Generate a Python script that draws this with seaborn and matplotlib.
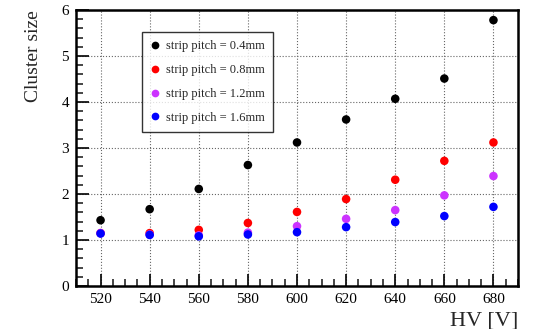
import seaborn as sns
import matplotlib.pyplot as plt
import pandas as pd
from matplotlib.ticker import MultipleLocator

sns.set_theme(style="ticks")
plt.rcParams['font.family'] = ['Liberation Serif', 'DejaVu Serif']
plt.rcParams['mathtext.fontset'] = 'stix'

hv = [520, 540, 560, 580, 600, 620, 640, 660, 680]
pitch_04 = [1.43, 1.67, 2.11, 2.63, 3.12, 3.62, 4.07, 4.51, 5.78]
pitch_08 = [1.15, 1.15, 1.22, 1.37, 1.61, 1.89, 2.31, 2.72, 3.12]
pitch_12 = [1.15, 1.12, 1.10, 1.16, 1.30, 1.46, 1.65, 1.97, 2.39]
pitch_16 = [1.14, 1.11, 1.08, 1.12, 1.17, 1.28, 1.39, 1.52, 1.72]
labels = ["strip pitch = 0.4mm", "strip pitch = 0.8mm",
          "strip pitch = 1.2mm", "strip pitch = 1.6mm"]
colors = ["black", "#ff0000", "#cc33ff", "#0000ff"]

rows = []
for lab, vals in zip(labels, [pitch_04, pitch_08, pitch_12, pitch_16]):
    for x, y in zip(hv, vals):
        rows.append({"HV": x, "size": y, "pitch": lab})
df = pd.DataFrame(rows)

fig = plt.figure(figsize=(5.37, 3.29), dpi=100)
ax = fig.add_axes([76 / 537, 43 / 329, 442 / 537, 276 / 329])

sns.scatterplot(data=df, x="HV", y="size", hue="pitch", hue_order=labels,
                palette=colors, s=38, edgecolor="none", ax=ax, zorder=3)

ax.set_xlim(510, 690)
ax.set_ylim(0, 6)
ax.xaxis.set_major_locator(MultipleLocator(20))
ax.xaxis.set_minor_locator(MultipleLocator(5))
ax.yaxis.set_major_locator(MultipleLocator(1))
ax.yaxis.set_minor_locator(MultipleLocator(0.2))
ax.tick_params(which="major", direction="in", length=9, width=1.2,
               labelsize=11, colors="black", top=False, right=False, pad=5)
ax.tick_params(which="minor", direction="in", length=5, width=1.2,
               top=False, right=False)
ax.grid(True, which="major", linestyle=":", color="#666666", linewidth=0.8)
for sp in ax.spines.values():
    sp.set_linewidth(1.8)
    sp.set_color("black")

ax.set_xlabel("HV [V]", fontsize=16, loc="right", labelpad=4)
ax.set_ylabel("Cluster size", fontsize=14, loc="top", labelpad=14)

leg = ax.legend(loc="upper left", bbox_to_anchor=(66 / 442, 254 / 276),
                borderaxespad=0, frameon=True, fancybox=False, fontsize=9,
                labelspacing=0.95, handlelength=0.8, handletextpad=0.45,
                borderpad=0.65, markerscale=0.9)
leg.get_frame().set_edgecolor("black")
leg.get_frame().set_linewidth(1.0)

fig.savefig("out.png", dpi=100)
